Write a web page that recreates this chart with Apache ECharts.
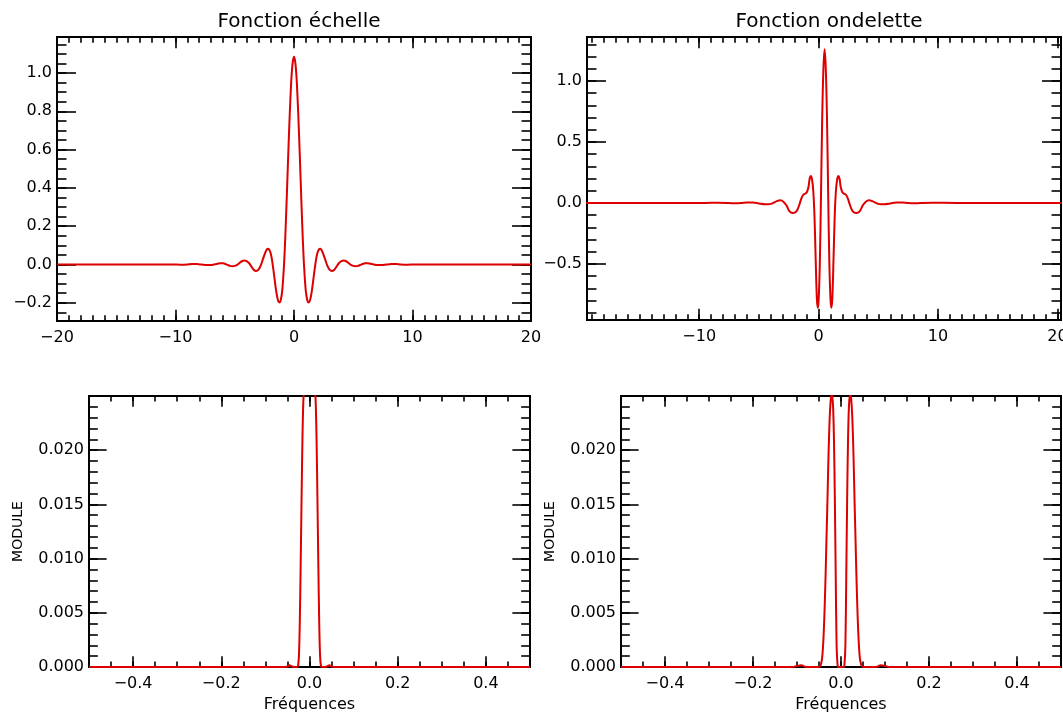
<!DOCTYPE html>
<html><head><meta charset="utf-8">
<script src="https://cdn.jsdelivr.net/npm/echarts@6/dist/echarts.min.js"></script>
<style>html,body{margin:0;padding:0;background:#fff}#c{width:1063px;height:716px}</style>
</head><body><div id="c"></div><script>
// ---- Data ----
// Panel 1: scaling function (x, value)
const scaleX = [-20,-18,-16,-14,-12,-11,-10.2,-9.6,-9.0,-8.6,-8.2,-7.8,-7.4,-7.0,-6.8,-6.6,-6.4,-6.2,-6.0,-5.8,-5.6,-5.4,-5.2,-5.0,-4.8,-4.6,-4.4,-4.2,-4.0,-3.8,-3.6,-3.4,-3.2,-3.0,-2.8,-2.6,-2.4,-2.3,-2.2,-2.1,-2.0,-1.9,-1.8,-1.7,-1.6,-1.5,-1.4,-1.3,-1.2,-1.1,-1.0,-0.9,-0.8,-0.7,-0.6,-0.5,-0.4,-0.3,-0.2,-0.1,
  0,0.1,0.2,0.3,0.4,0.5,0.6,0.7,0.8,0.9,1.0,1.1,1.2,1.3,1.4,1.5,1.6,1.7,1.8,1.9,2.0,2.1,2.2,2.3,2.4,2.6,2.8,3.0,3.2,3.4,3.6,3.8,4.0,4.2,4.4,4.6,4.8,5.0,5.2,5.4,5.6,5.8,6.0,6.2,6.4,6.6,6.8,7.0,7.4,7.8,8.2,8.6,9.0,9.6,10.2,11,12,14,16,18,20];
const scaleY = [0,0,0,0,0,0,0,-0.001,0,0.002,0.002,0,-0.003,-0.003,-0.001,0.002,0.005,0.007,0.006,0.003,-0.002,-0.007,-0.009,-0.007,-0.002,0.008,0.017,0.021,0.018,0.008,-0.01,-0.027,-0.034,-0.027,-0.004,0.032,0.066,0.078,0.082,0.078,0.065,0.04,0.0,-0.045,-0.095,-0.14,-0.175,-0.195,-0.198,-0.18,-0.14,-0.06,0.05,0.2,0.37,0.55,0.72,0.87,0.99,1.06,
  1.085,1.06,0.99,0.87,0.72,0.55,0.37,0.2,0.05,-0.06,-0.14,-0.18,-0.198,-0.195,-0.175,-0.14,-0.095,-0.045,0.0,0.04,0.065,0.078,0.082,0.078,0.066,0.032,-0.004,-0.027,-0.034,-0.027,-0.01,0.008,0.018,0.021,0.017,0.008,-0.002,-0.007,-0.009,-0.007,-0.002,0.003,0.006,0.007,0.005,0.002,-0.001,-0.003,-0.003,0,0.002,0.002,0,-0.001,0,0,0,0,0,0,0];

// Panel 2: wavelet function (x, value)
const waveX = [-19.5,-17.5,-15.5,-13.5,-11.5,-9.5,-8.5,-7.5,-7.0,-6.5,-6.0,-5.5,-5.0,-4.5,-4.1,-3.8,-3.5,-3.2,-2.95,-2.7,-2.5,-2.3,-2.15,-2.0,-1.8,-1.6,-1.45,-1.3,-1.15,-1.0,-0.85,-0.75,-0.65,-0.55,-0.45,-0.35,-0.25,-0.15,-0.07,0.0,0.1,0.2,0.3,0.4,
  0.5,0.6,0.7,0.8,0.9,1.0,1.07,1.15,1.25,1.35,1.45,1.55,1.65,1.75,1.85,2.0,2.15,2.3,2.45,2.6,2.8,3.0,3.15,3.3,3.5,3.7,3.95,4.2,4.5,4.8,5.1,5.5,6.0,6.5,7.0,7.5,8.0,8.5,9.5,11.5,13.5,15.5,17.5,20.5];
const waveY = [0,0,0,0,0,0,0.001,-0.001,-0.003,-0.001,0.004,0.003,-0.005,-0.012,-0.01,0.0,0.015,0.022,0.01,-0.02,-0.06,-0.08,-0.082,-0.08,-0.06,-0.01,0.035,0.065,0.075,0.085,0.13,0.2,0.22,0.19,0.1,-0.1,-0.45,-0.78,-0.86,-0.8,-0.5,0.07,0.7,1.1,
  1.26,1.1,0.7,0.07,-0.5,-0.8,-0.86,-0.78,-0.45,-0.1,0.1,0.19,0.22,0.2,0.13,0.085,0.075,0.065,0.035,-0.01,-0.06,-0.08,-0.082,-0.08,-0.06,-0.02,0.01,0.022,0.015,0.0,-0.01,-0.012,-0.005,0.003,0.004,-0.001,-0.003,-0.001,0.001,0,0,0,0,0];

// Panel 3: modulus of scaling function spectrum (frequency, value)
const specPhiF = [-0.5,-0.4,-0.3,-0.2,-0.1,-0.06,-0.05,-0.045,-0.04,-0.035,-0.028,-0.026,-0.024,-0.022,-0.020,-0.018,-0.016,-0.014,-0.012,-0.010,-0.008,-0.004,
  0,0.004,0.008,0.010,0.012,0.014,0.016,0.018,0.020,0.022,0.024,0.026,0.028,0.035,0.04,0.045,0.05,0.06,0.1,0.2,0.3,0.4,0.5];
const specPhiV = [0,0,0,0,0,0,0.00005,0.00015,0.00005,0,0,0.0001,0.001,0.0042,0.0095,0.0155,0.021,0.0245,0.0258,0.0265,0.0272,0.0282,
  0.0285,0.0282,0.0272,0.0265,0.0258,0.0245,0.021,0.0155,0.0095,0.0042,0.001,0.0001,0,0,0.00005,0.00015,0.00005,0,0,0,0,0,0];

// Panel 4: modulus of wavelet spectrum (frequency, value)
const specPsiF = [-0.5,-0.4,-0.3,-0.2,-0.12,-0.11,-0.1,-0.09,-0.08,-0.06,-0.05,-0.046,-0.043,-0.041,-0.039,-0.037,-0.035,-0.033,-0.031,-0.029,-0.027,-0.025,-0.023,-0.0215,-0.020,-0.018,-0.016,-0.014,-0.012,-0.010,-0.008,-0.006,
  0,0.006,0.008,0.010,0.012,0.014,0.016,0.018,0.020,0.0215,0.023,0.025,0.027,0.029,0.031,0.033,0.035,0.037,0.039,0.041,0.043,0.046,0.05,0.06,0.08,0.09,0.1,0.11,0.12,0.2,0.3,0.4,0.5];
const specPsiV = [0,0,0,0,0,0,0.0001,0.00015,0,0,0,0.0002,0.0008,0.0018,0.0034,0.0057,0.0085,0.0118,0.015,0.0185,0.0215,0.0236,0.0248,0.0251,0.025,0.024,0.021,0.0155,0.0085,0.002,0.0003,0,
  0,0,0.0003,0.002,0.0085,0.0155,0.021,0.024,0.025,0.0251,0.0248,0.0236,0.0215,0.0185,0.015,0.0118,0.0085,0.0057,0.0034,0.0018,0.0008,0.0002,0,0,0,0.00015,0.0001,0,0,0,0,0,0];

// Tick labels
const p1XTicks = [-20,-10,0,10,20];
const p1YTicks = [-0.2,0.0,0.2,0.4,0.6,0.8,1.0];
const p2XTicks = [-10,0,10,20];
const p2YTicks = [-0.5,0.0,0.5,1.0];
const pBXTicks = [-0.4,-0.2,0.0,0.2,0.4];
const pBYTicks = [0.000,0.005,0.010,0.015,0.020];

const titles = ['Fonction échelle','Fonction ondelette'];
const xName = 'Fréquences';
const yName = 'MODULE';

// ---- Layout / style ----
const FONT = 'DejaVu Sans';
const RED = '#dd0000';

function steps(a, b, s) {
  const out = [];
  for (let v = a; v <= b + s * 1e-6; v += s) out.push(Math.round(v * 1e6) / 1e6);
  return out;
}
function fmt(dec) {
  return function (v) {
    const s = Math.abs(v).toFixed(dec);
    return (v < -1e-9 ? '\u2212' : '') + s;
  };
}
function zip(a, b) { return a.map((v, i) => [v, b[i]]); }

const panels = [
  {grid:{left:57, top:37, width:474, height:284}, xr:[-20,20], yr:[-0.295,1.188],
   xMaj:p1XTicks, xMin:steps(-20,20,1), yMaj:p1YTicks, yMin:steps(-0.25,1.15,0.05),
   xFmt:fmt(0), yFmt:fmt(1), data:zip(scaleX, scaleY)},
  {grid:{left:587, top:37, width:474, height:283}, xr:[-19.4,20.3], yr:[-0.96,1.36],
   xMaj:p2XTicks, xMin:steps(-19,20,1), yMaj:p2YTicks, yMin:steps(-0.9,1.3,0.1),
   xFmt:fmt(0), yFmt:fmt(1), data:zip(waveX, waveY)},
  {grid:{left:89, top:396, width:441, height:271}, xr:[-0.5,0.5], yr:[0,0.025],
   xMaj:pBXTicks, xMin:steps(-0.45,0.45,0.05), yMaj:pBYTicks, yMin:steps(0,0.024,0.001),
   xFmt:fmt(1), yFmt:fmt(3), data:zip(specPhiF, specPhiV), names:true},
  {grid:{left:621, top:396, width:440, height:271}, xr:[-0.5,0.5], yr:[0,0.025],
   xMaj:pBXTicks, xMin:steps(-0.45,0.45,0.05), yMaj:pBYTicks, yMin:steps(0,0.024,0.001),
   xFmt:fmt(1), yFmt:fmt(3), data:zip(specPsiF, specPsiV), names:true}
];

function axis(g, pos, r, ticks, len, label, fmtFn, extra) {
  const inRange = ticks.filter(v => v >= r[0] - 1e-9 && v <= r[1] + 1e-9);
  return Object.assign({
    type:'value', gridIndex:g, position:pos, min:r[0], max:r[1],
    axisLine:{show:true, onZero:false, lineStyle:{color:'#000', width:2}},
    axisTick:{show:true, inside:true, length:len, customValues:inRange, lineStyle:{color:'#000', width:1.6}},
    axisLabel:{show:label, customValues:inRange, formatter:fmtFn, color:'#000', fontSize:16, fontFamily:FONT,
      margin: (pos==='bottom'||pos==='top') ? 9 : 5, hideOverlap:false},
    splitLine:{show:false}, axisPointer:{show:false}, silent:true
  }, extra || {});
}

const grids = [], xAxes = [], yAxes = [], series = [];
panels.forEach((p, g) => {
  grids.push(Object.assign({outerBoundsMode:'none', containLabel:false}, p.grid));
  const xMajLen = 0.04 * p.grid.height, yMajLen = 0.04 * p.grid.width;
  const xi = xAxes.length, yi = yAxes.length;
  const xExtra = p.names ? {name:xName, nameLocation:'middle', nameGap:30,
    nameTextStyle:{color:'#000', fontSize:16, fontFamily:FONT}} : {};
  const yExtra = p.names ? {name:yName, nameLocation:'middle', nameGap:64,
    nameTextStyle:{color:'#000', fontSize:14, fontFamily:FONT}} : {};
  xAxes.push(axis(g,'bottom',p.xr,p.xMaj,xMajLen,true,p.xFmt,xExtra));
  xAxes.push(axis(g,'top',p.xr,p.xMaj,xMajLen,false,p.xFmt));
  xAxes.push(axis(g,'bottom',p.xr,p.xMin,xMajLen/2,false,p.xFmt));
  xAxes.push(axis(g,'top',p.xr,p.xMin,xMajLen/2,false,p.xFmt));
  yAxes.push(axis(g,'left',p.yr,p.yMaj,yMajLen,true,p.yFmt,yExtra));
  yAxes.push(axis(g,'right',p.yr,p.yMaj,yMajLen,false,p.yFmt));
  yAxes.push(axis(g,'left',p.yr,p.yMin,yMajLen/2,false,p.yFmt));
  yAxes.push(axis(g,'right',p.yr,p.yMin,yMajLen/2,false,p.yFmt));
  series.push({type:'line', xAxisIndex:xi, yAxisIndex:yi, data:p.data, showSymbol:false,
    smooth:0.35, clip:true, lineStyle:{color:RED, width:2}, silent:true, z:1});
});

const chart = echarts.init(document.getElementById('c'), null, {renderer:'canvas'});
chart.setOption({
  animation:false,
  backgroundColor:'#fff',
  title: [
    {text:titles[0], left:294, top:7, textAlign:'center', textStyle:{fontSize:20, fontWeight:'normal', fontFamily:FONT, color:'#000'}},
    {text:titles[1], left:824, top:7, textAlign:'center', textStyle:{fontSize:20, fontWeight:'normal', fontFamily:FONT, color:'#000'}}
  ],
  grid: grids, xAxis: xAxes, yAxis: yAxes, series: series
});
</script></body></html>
